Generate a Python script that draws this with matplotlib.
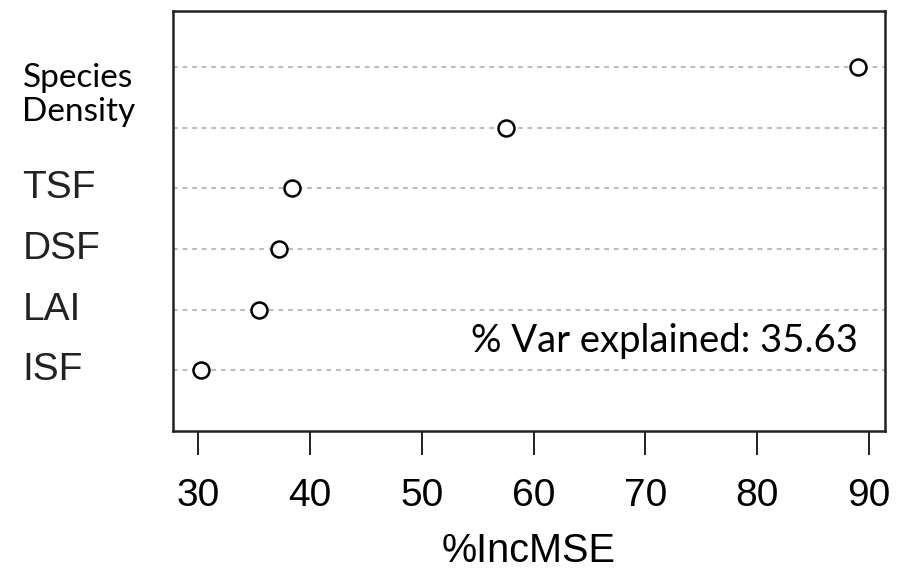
"""
Variable importance dot chart (%IncMSE)
"""
import matplotlib
matplotlib.use('Agg')
import matplotlib.pyplot as plt

# Data (top row first)
labels = ['', '', 'TSF', 'DSF', 'LAI', 'ISF']
inc_mse = [89.0, 57.5, 38.4, 37.2, 35.4, 30.25]
xticks = [30, 40, 50, 60, 70, 80, 90]
note = '% Var explained: 35.63'

fig = plt.figure(figsize=(9.1, 5.72), dpi=100)
ax = fig.add_axes([0.190, 0.2465, 0.782, 0.735])

n = len(inc_mse)
ypos = list(range(n, 0, -1))
for y in ypos:
    ax.axhline(y, color='#bdbdbd', lw=1.5, dashes=(2.3, 2.3), zorder=1)
ax.plot(inc_mse, ypos, 'o', ms=11.5, mfc='white', mec='black', mew=1.8, zorder=3)

ax.set_xlim(27.71, 91.39)
ax.set_ylim(0.0, 6.93)
ax.set_yticks([])
ax.set_xticks(xticks)
ax.set_xticklabels([str(t) for t in xticks], fontsize=28, family='Liberation Sans')
ax.tick_params(axis='x', length=17, width=1.4, pad=17, color='#222222')
for s in ax.spines.values():
    s.set_linewidth(1.8)
    s.set_color('#222222')
ax.set_xlabel('%IncMSE', fontsize=28.5, family='Liberation Sans', labelpad=13)

# row labels, left aligned like the original
for lab, y in zip(labels, ypos):
    if lab:
        ax.text(-0.2115, y, lab, transform=ax.get_yaxis_transform(), ha='left', va='center',
                fontsize=28, family='Liberation Sans', color='#222222')
ax.text(-0.2115, 5.54, 'Species\nDensity', transform=ax.get_yaxis_transform(), ha='left',
        va='center', fontsize=24, family='Lato', linespacing=1.2)

ax.text(0.962, 1.30, note, transform=ax.get_yaxis_transform(), ha='right', va='baseline',
        fontsize=27.5, family='Lato')

plt.savefig('out.png', dpi=100)
